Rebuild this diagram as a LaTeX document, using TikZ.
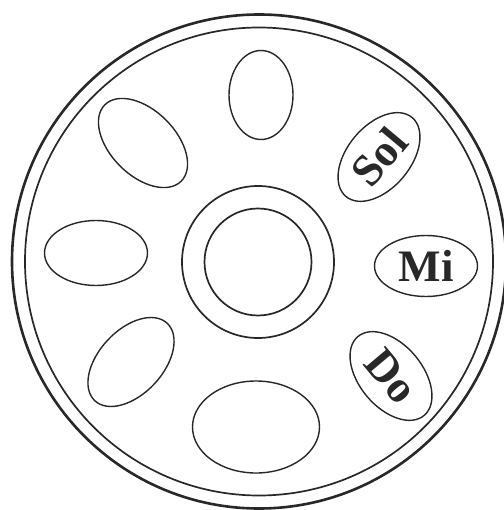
\documentclass[tikz,border=0pt]{standalone}
\usepackage{fontspec}
\setmainfont{Liberation Serif}
\usetikzlibrary{shapes.geometric}
\definecolor{ink}{RGB}{40,40,40}
\begin{document}
\begin{tikzpicture}[x=1pt,y=-1pt,
  pan/.style={draw=ink,ellipse,inner sep=0pt,line width=1.4pt,text=ink,
    font=\fontsize{45}{45}\selectfont\bfseries},
  ring/.style={draw=ink,circle,inner sep=0pt}]
\useasboundingbox (0,0) rectangle (503,510);
\fill[white] (0,0) rectangle (503,510);
% frame
\node[ring,line width=2.6pt,minimum size=494pt] (rim) at (259,261.5) {};
\node[ring,line width=1.7pt,minimum size=468pt] (rimin) at (259,261.5) {};
% centre
\node[ring,line width=1.7pt,minimum size=152pt] (dingo) at (258,262) {};
\node[ring,line width=1.7pt,minimum size=107pt] (dingi) at (258,262) {};
% tone fields
\node[pan,minimum width=64pt,minimum height=89pt] (top) at (261,95) {};
\node[pan,minimum width=108pt,minimum height=65pt,rotate=-45] (ul) at (143,143) {};
\node[pan,minimum width=103pt,minimum height=63pt,rotate=50] (sol) at (379,157) {Sol};
\node[pan,minimum width=103pt,minimum height=61pt] (mi) at (426,266) {Mi};
\node[pan,minimum width=103pt,minimum height=63pt,rotate=-50] (do) at (391,376) {Do};
\node[pan,minimum width=127pt,minimum height=92pt] (bot) at (256,427) {};
\node[pan,minimum width=106pt,minimum height=64pt,rotate=47] (ll) at (131,362) {};
\node[pan,minimum width=103pt,minimum height=65pt] (left) at (96,253) {};
\end{tikzpicture}
\end{document}
